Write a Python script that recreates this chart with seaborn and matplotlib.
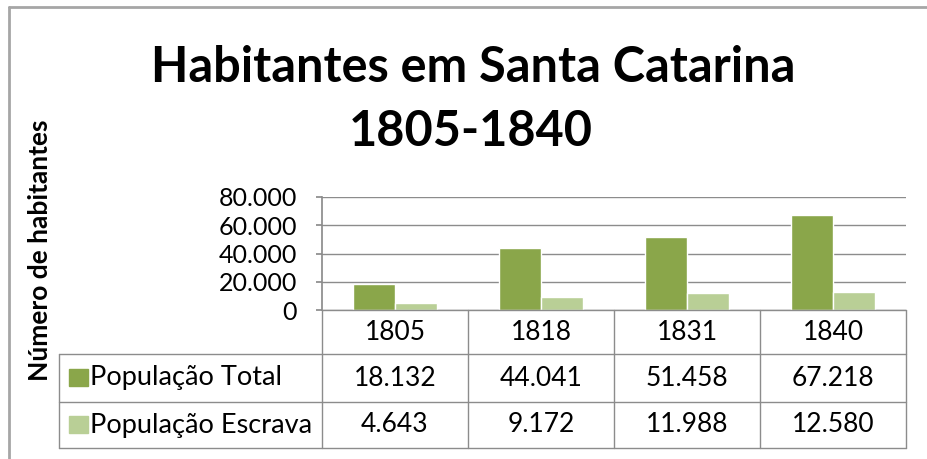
import matplotlib
matplotlib.use("Agg")
import matplotlib.pyplot as plt
from matplotlib.lines import Line2D
from matplotlib.patches import Rectangle
import pandas as pd
import seaborn as sns

years = ["1805", "1818", "1831", "1840"]
pop_total = [18132, 44041, 51458, 67218]
pop_escrava = [4643, 9172, 11988, 12580]
series_names = ["População Total", "População Escrava"]
y_ticks = [0, 20000, 40000, 60000, 80000]

dark_green = "#8aa64a"
light_green = "#b9cf96"
grid_gray = "#8c8c8c"

df = pd.DataFrame({
    "ano": years * 2,
    "serie": [series_names[0]] * len(years) + [series_names[1]] * len(years),
    "valor": pop_total + pop_escrava,
})

sns.set_theme(style="white")
plt.rcParams["font.family"] = ["Lato", "DejaVu Sans"]
plt.rcParams["text.color"] = "black"
plt.rcParams["ytick.color"] = "black"

W, H = 928, 459
fig = plt.figure(figsize=(W / 100, H / 100), dpi=100)


def fx(x):
    return x / W


def fy(y):
    return 1 - y / H


def fmt(v):
    return f"{v:,}".replace(",", ".")


# plot area in pixel terms: x 322..906, y 197..310
ax = fig.add_axes([fx(322), fy(310), fx(906) - fx(322), fy(197) - fy(310)])
sns.barplot(data=df, x="ano", y="valor", hue="serie",
            palette=[dark_green, light_green], width=0.58,
            saturation=1, legend=False, ax=ax)
ax.set_xlim(-0.5, len(years) - 0.5)
ax.set_ylim(0, 80000)
ax.set_yticks(y_ticks)
ax.set_yticklabels([fmt(v) for v in y_ticks], fontsize=18)
ax.set_xticks([])
ax.set_xlabel("")
ax.set_ylabel("")
ax.yaxis.grid(True, color=grid_gray, lw=1)
ax.set_axisbelow(True)
for side in ["top", "right", "bottom"]:
    ax.spines[side].set_visible(False)
ax.spines["left"].set_color(grid_gray)
ax.tick_params(axis="y", length=4, color=grid_gray, labelcolor="black",
               left=True, pad=14)

# titles
fig.text(fx(473), fy(68), "Habitantes em Santa Catarina", ha="center", va="center",
         fontsize=35, fontweight="bold")
fig.text(fx(471), fy(131), "1805-1840", ha="center", va="center",
         fontsize=35, fontweight="bold")
fig.text(fx(40), fy(250), "Número de habitantes", rotation=90, ha="center",
         va="center", fontsize=19, fontweight="bold")

# outer chart frame (left and top visible)
fig.add_artist(Line2D([fx(9), fx(9)], [fy(7), fy(H + 5)], color="#a6a6a6", lw=2))
fig.add_artist(Line2D([fx(9), fx(W + 5)], [fy(7), fy(7)], color="#a6a6a6", lw=2))

# data table under the plot
col_x = [322 + 146 * i for i in range(len(years) + 1)]
row_y = [310, 354, 402, 448]
legend_x0 = 59


def hline(x0, x1, y):
    fig.add_artist(Line2D([fx(x0), fx(x1)], [fy(y), fy(y)], color=grid_gray, lw=1))


def vline(x, y0, y1):
    fig.add_artist(Line2D([fx(x), fx(x)], [fy(y0), fy(y1)], color=grid_gray, lw=1))


hline(col_x[0], col_x[-1], row_y[0])
for y in row_y[1:]:
    hline(legend_x0, col_x[-1], y)
for x in col_x:
    vline(x, row_y[0], row_y[-1])
vline(legend_x0, row_y[1], row_y[-1])

rows = [pop_total, pop_escrava]
colors = [dark_green, light_green]
for i, yr in enumerate(years):
    cx = (col_x[i] + col_x[i + 1]) / 2
    fig.text(fx(cx), fy((row_y[0] + row_y[1]) / 2), yr, ha="center", va="center",
             fontsize=19)
    for r, vals in enumerate(rows):
        cy = (row_y[r + 1] + row_y[r + 2]) / 2
        fig.text(fx(cx), fy(cy), fmt(vals[i]), ha="center", va="center",
                 fontsize=19)

for r, name in enumerate(series_names):
    cy = (row_y[r + 1] + row_y[r + 2]) / 2
    fig.add_artist(Rectangle((fx(69), fy(cy + 8)), fx(19), fy(0) - fy(17),
                             color=colors[r], transform=fig.transFigure))
    fig.text(fx(90), fy(cy), name, ha="left", va="center", fontsize=19.5)

fig.savefig("out.png", dpi=100)
